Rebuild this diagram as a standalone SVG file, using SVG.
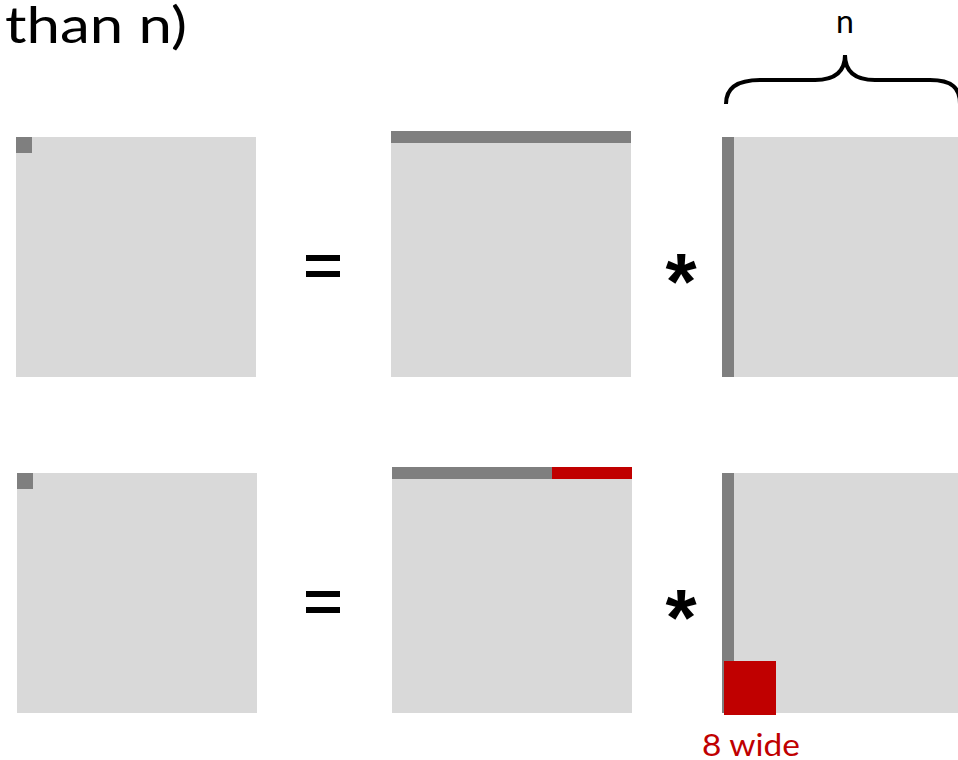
<svg xmlns="http://www.w3.org/2000/svg" width="958" height="760" viewBox="0 0 958 760">
<style>
.lt{fill:#d9d9d9}
.dk{fill:#7f7f7f}
.rd{fill:#c00000}
.t{font-family:Lato,"Open Sans","Liberation Sans",sans-serif;fill:#000}
.op{font-family:"Liberation Sans",sans-serif;font-weight:bold;fill:#000}
</style>
<rect width="958" height="760" fill="#fff"/>
<text class="t" x="5" y="43" font-size="50" textLength="182" lengthAdjust="spacingAndGlyphs">than n)</text>
<text class="t" x="845" y="33" font-size="32" text-anchor="middle">n</text>
<g id="brace">
<path d="M726,104 C726,88 738,80 760,80 L815,80 C835,80 845,72 845,55 C845,72 855,80 875,80 L930,80 C952,80 960,88 960,104" fill="none" stroke="#000" stroke-width="4"/>
</g>
<g id="r1-left"><rect class="lt" x="16" y="137" width="240" height="240"/><rect class="dk" x="16" y="137" width="16" height="16"/></g>
<g id="r1-eq"><rect x="306" y="255" width="34" height="6"/><rect x="306" y="271" width="34" height="6"/></g>
<g id="r1-mid"><rect class="lt" x="391" y="143" width="240" height="234"/><rect class="dk" x="391" y="131" width="240" height="12"/></g>
<g id="r1-star"><text class="op" x="681" y="309" font-size="80" text-anchor="middle">*</text></g>
<g id="r1-right"><rect class="lt" x="722" y="137" width="240" height="240"/><rect class="dk" x="722" y="137" width="12" height="240"/></g>
<g id="r2-left"><rect class="lt" x="17" y="473" width="240" height="240"/><rect class="dk" x="17" y="473" width="16" height="16"/></g>
<g id="r2-eq"><rect x="306" y="591" width="34" height="6"/><rect x="306" y="607" width="34" height="6"/></g>
<g id="r2-mid"><rect class="lt" x="392" y="479" width="240" height="234"/><rect class="dk" x="392" y="467" width="160" height="12"/><rect class="rd" x="552" y="467" width="80" height="12"/></g>
<g id="r2-star"><text class="op" x="681" y="645" font-size="80" text-anchor="middle">*</text></g>
<g id="r2-right"><rect class="lt" x="722" y="473" width="240" height="240"/><rect class="dk" x="722" y="473" width="12" height="240"/><rect class="rd" x="724" y="661" width="52" height="54"/></g>
<text class="t" x="702" y="756" font-size="30" textLength="98" lengthAdjust="spacingAndGlyphs" style="fill:#c00000">8 wide</text>
</svg>
